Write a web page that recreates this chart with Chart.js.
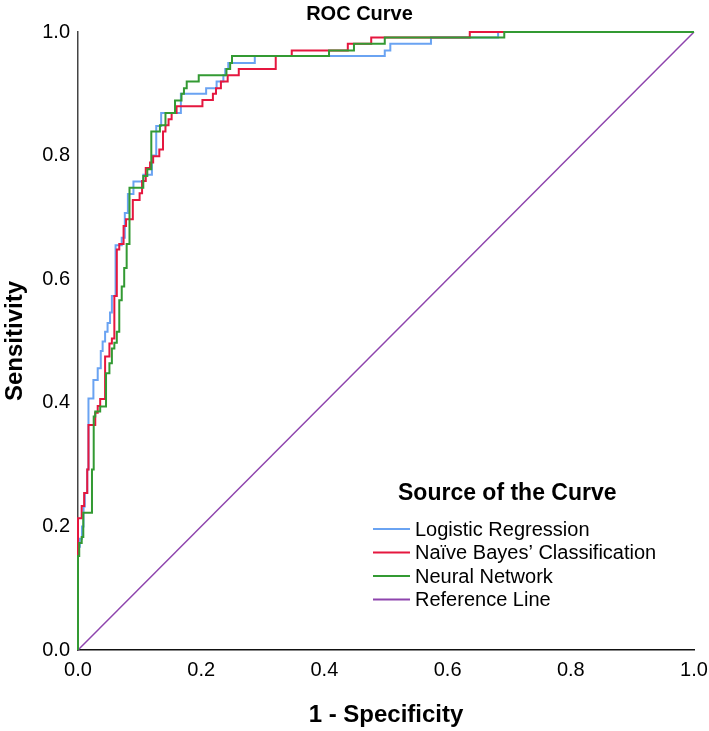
<!DOCTYPE html>
<html>
<head>
<meta charset="utf-8">
<script src="https://cdn.jsdelivr.net/npm/chart.js@4.4.1/dist/chart.umd.min.js"></script>
<style>
  body { margin: 0; background: #fff; }
  #wrap { width: 709px; height: 731px; }
</style>
</head>
<body>
<div id="wrap"><canvas id="rocChart"></canvas></div>
<script>
// ROC coordinates: x = 1 - specificity at which each curve steps up, y = sensitivity after the step
const LR_FPR = [0, 0.003, 0.0065, 0.009, 0.011, 0.015, 0.017, 0.025, 0.032, 0.037, 0.040, 0.044, 0.048, 0.052,
  0.055, 0.061, 0.071, 0.076, 0.081, 0.090, 0.106, 0.120, 0.127, 0.135, 0.167, 0.208, 0.225, 0.236, 0.239,
  0.244, 0.287, 0.498, 0.507, 0.573, 0.682];
const LR_TPR = [0.167, 0.180, 0.200, 0.232, 0.254, 0.292, 0.407, 0.437, 0.456, 0.484, 0.499, 0.515, 0.529, 0.546,
  0.573, 0.655, 0.667, 0.707, 0.738, 0.758, 0.769, 0.800, 0.848, 0.869, 0.900, 0.909, 0.920, 0.930, 0.940,
  0.950, 0.961, 0.970, 0.981, 0.991, 1.0];

const NB_FPR = [0, 0.006, 0.010, 0.015, 0.017, 0.028, 0.032, 0.036, 0.044, 0.051, 0.055, 0.059, 0.063, 0.067,
  0.074, 0.078, 0.089, 0.100, 0.104, 0.110, 0.117, 0.122, 0.132, 0.138, 0.142, 0.147, 0.152, 0.160, 0.202,
  0.219, 0.224, 0.232, 0.243, 0.261, 0.321, 0.347, 0.438, 0.476, 0.636];
const NB_TPR = [0.213, 0.233, 0.254, 0.292, 0.364, 0.384, 0.395, 0.406, 0.475, 0.496, 0.504, 0.573, 0.648, 0.657,
  0.686, 0.697, 0.728, 0.739, 0.759, 0.780, 0.789, 0.799, 0.810, 0.839, 0.849, 0.859, 0.869, 0.880, 0.890,
  0.900, 0.909, 0.920, 0.930, 0.940, 0.961, 0.970, 0.981, 0.991, 1.0];

const NN_FPR = [0, 0.002, 0.006, 0.0086, 0.0227, 0.0255, 0.028, 0.036, 0.0455, 0.051, 0.055, 0.059, 0.063, 0.067,
  0.071, 0.075, 0.079, 0.0836, 0.106, 0.1125, 0.119, 0.133, 0.142, 0.1575, 0.168, 0.172, 0.1765, 0.196,
  0.241, 0.247, 0.250, 0.4075, 0.448, 0.498, 0.692];
const NN_TPR = [0.152, 0.173, 0.183, 0.222, 0.292, 0.378, 0.386, 0.394, 0.448, 0.464, 0.488, 0.497, 0.515, 0.566,
  0.588, 0.618, 0.657, 0.748, 0.767, 0.778, 0.839, 0.849, 0.869, 0.889, 0.900, 0.909, 0.920, 0.930,
  0.940, 0.950, 0.961, 0.970, 0.981, 0.991, 1.0];

const REF_X = [0, 1];
const REF_Y = [0, 1];

const TICK_VALUES = [0, 0.2, 0.4, 0.6, 0.8, 1.0];
const TICK_LABELS = ['0.0', '0.2', '0.4', '0.6', '0.8', '1.0'];

const SERIES_LABELS = ['Logistic Regression', 'Naïve Bayes’ Classification', 'Neural Network', 'Reference Line'];
const SERIES_COLORS = ['#6aa3f2', '#e5173f', '#339a33', '#8e44ad'];

const FONT = 'Liberation Sans, Arial, Helvetica, sans-serif';

// turn step positions into the corner points of an ROC staircase
function staircase(fpr, tpr) {
  const pts = [{ x: 0, y: 0 }];
  let prevY = 0;
  fpr.forEach((x, i) => {
    pts.push({ x, y: prevY });
    pts.push({ x, y: tpr[i] });
    prevY = tpr[i];
  });
  pts.push({ x: 1, y: prevY });
  return pts;
}

function series(i, data, order, width) {
  return {
    label: SERIES_LABELS[i],
    data,
    borderColor: SERIES_COLORS[i],
    backgroundColor: SERIES_COLORS[i],
    borderWidth: width,
    showLine: true,
    pointRadius: 0,
    pointHoverRadius: 0,
    fill: false,
    clip: false,
    order
  };
}

const rocLegend = {
  id: 'rocLegend',
  afterDraw(chart) {
    const { ctx, chartArea: a } = chart;
    ctx.save();
    ctx.fillStyle = '#000';
    ctx.textBaseline = 'middle';
    ctx.textAlign = 'left';
    ctx.font = 'bold 23px ' + FONT;
    ctx.fillText('Source of the Curve', a.left + 320, a.top + 462);
    ctx.font = '20px ' + FONT;
    chart.data.datasets.forEach((ds, i) => {
      const y = a.top + 497 + i * 23.5;
      ctx.strokeStyle = ds.borderColor;
      ctx.lineWidth = 2;
      ctx.beginPath();
      ctx.moveTo(a.left + 295, y);
      ctx.lineTo(a.left + 332, y);
      ctx.stroke();
      ctx.fillStyle = '#000';
      ctx.fillText(ds.label, a.left + 337, y + 1);
    });
    ctx.restore();
  }
};

const ticksFrom = scale => { scale.ticks = TICK_VALUES.map(v => ({ value: v })); };
const tickLabel = (v, i) => TICK_LABELS[i];

new Chart(document.getElementById('rocChart').getContext('2d'), {
  type: 'scatter',
  data: {
    datasets: [
      series(0, staircase(LR_FPR, LR_TPR), 2, 2),
      series(1, staircase(NB_FPR, NB_TPR), 1, 2),
      series(2, staircase(NN_FPR, NN_TPR), 0, 2),
      series(3, REF_X.map((x, i) => ({ x, y: REF_Y[i] })), 3, 1.5)
    ]
  },
  options: {
    responsive: true,
    maintainAspectRatio: false,
    animation: false,
    events: [],
    layout: { padding: { left: 25, right: 15, top: 0, bottom: 0 } },
    plugins: {
      legend: { display: false },
      tooltip: { enabled: false },
      title: {
        display: true,
        text: 'ROC Curve',
        color: '#000',
        font: { family: FONT, size: 20, weight: 'bold' },
        padding: { top: 2, bottom: 6 }
      }
    },
    scales: {
      x: {
        type: 'linear',
        min: 0,
        max: 1,
        afterBuildTicks: ticksFrom,
        afterFit: s => { s.height = 81; s.paddingLeft = 0; s.paddingRight = 0; },
        grid: { display: false, drawTicks: false },
        border: { display: true, color: '#111', width: 1.5 },
        ticks: { callback: tickLabel, color: '#000', padding: 8, maxRotation: 0, font: { family: FONT, size: 20 } },
        title: {
          display: true,
          text: '1 - Specificity',
          color: '#000',
          font: { family: FONT, size: 24, weight: 'bold' },
          padding: { top: 18, bottom: 1 }
        }
      },
      y: {
        type: 'linear',
        min: 0,
        max: 1,
        afterBuildTicks: ticksFrom,
        afterFit: s => { s.width = 53; },
        grid: { display: false, drawTicks: false },
        border: { display: true, color: '#444', width: 1.5 },
        ticks: { callback: tickLabel, color: '#000', padding: 8, font: { family: FONT, size: 20 } },
        title: {
          display: true,
          text: 'Sensitivity',
          color: '#000',
          font: { family: FONT, size: 24, weight: 'bold' },
          padding: { top: -24, bottom: 0 }
        }
      }
    }
  },
  plugins: [rocLegend]
});
</script>
</body>
</html>
